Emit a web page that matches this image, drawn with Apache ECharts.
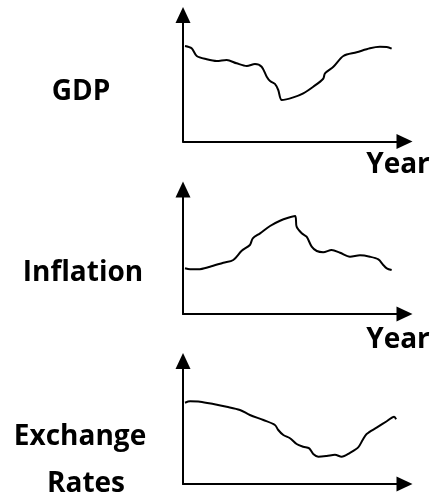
<!DOCTYPE html>
<html>
<head>
  <meta charset="utf-8">
  <title>GDP / Inflation / Exchange Rates</title>
  <style>
    html, body { margin: 0; padding: 0; background: #fff; }
    #main { width: 436px; height: 493px; }
  </style>
</head>
<body>
  <div id="main"></div>
  <script src="https://cdn.jsdelivr.net/npm/echarts@6/dist/echarts.min.js"></script>
  <script>
    // values (x = year index 0-100, y = level 0-100)
    var gdpX = [0.9, 3.9, 6.2, 10.7, 15.2, 19.7, 24.2, 28.8, 32.5, 35.5, 37.8, 39.3, 41.5, 43.0, 44.6, 49.8, 54.3, 58.8, 63.3, 64.1, 67.9, 72.4, 78.4, 84.4, 88.9, 92.0, 94.2];
    var gdpY = [75.5, 73.7, 67.6, 65.0, 63.6, 64.4, 61.8, 59.7, 61.3, 59.1, 51.2, 47.8, 45.5, 40.7, 32.8, 34.9, 38.1, 43.3, 49.6, 53.9, 59.1, 67.6, 70.5, 73.7, 74.9, 74.7, 73.4];

    var inflX = [0.9, 3.2, 6.9, 12.2, 18.2, 22.7, 26.5, 30.2, 31.5, 34.8, 39.3, 43.8, 47.5, 50.6, 51.3, 53.6, 55.8, 58.1, 60.4, 63.3, 67.1, 70.9, 75.4, 79.9, 84.4, 88.2, 90.4, 92.0, 94.2];
    var inflY = [36.7, 35.9, 35.9, 38.0, 41.2, 43.4, 50.8, 55.4, 60.8, 64.8, 70.7, 74.9, 77.3, 78.7, 70.1, 64.8, 62.1, 54.1, 50.6, 49.6, 51.4, 49.2, 46.0, 47.1, 46.0, 43.9, 39.4, 36.7, 35.3];

    var fxX = [0.9, 3.2, 7.7, 13.7, 19.7, 25.7, 30.2, 36.3, 41.5, 43.0, 45.3, 48.3, 51.3, 54.3, 57.0, 58.8, 61.1, 64.9, 68.6, 71.6, 75.4, 79.1, 81.1, 82.9, 87.4, 92.0, 95.3, 96.2];
    var fxY = [66.1, 67.2, 66.9, 65.0, 62.8, 60.2, 56.1, 52.0, 48.0, 43.9, 39.8, 37.2, 32.5, 30.3, 29.0, 24.4, 22.2, 22.8, 23.8, 22.2, 25.4, 29.8, 35.8, 40.7, 45.8, 51.0, 54.7, 52.6];

    var panelNames = ['GDP', 'Inflation', 'Exchange', 'Rates'];
    var xAxisName = 'Year';

    function pairs(xs, ys) {
      var out = [];
      for (var i = 0; i < xs.length; i++) out.push([xs[i], ys[i]]);
      return out;
    }

    var font = '"Open Sans", "DejaVu Sans", sans-serif';

    var grids = [
      { left: 183, right: 31.5, top: 15, bottom: 351.5 },
      { left: 183, right: 31.5, top: 189.5, bottom: 179 },
      { left: 183, right: 31.5, top: 361, bottom: 9 }
    ];

    var xAxes = [], yAxes = [];
    for (var i = 0; i < 3; i++) {
      var base = {
        gridIndex: i,
        type: 'value',
        min: 0,
        max: 100,
        axisLine: {
          show: true,
          symbol: ['none', 'triangle'],
          symbolSize: [15, 16],
          lineStyle: { color: '#000', width: 2 }
        },
        axisTick: { show: false },
        axisLabel: { show: false },
        splitLine: { show: false }
      };
      xAxes.push(Object.assign({}, base));
      yAxes.push(Object.assign({}, base));
    }

    function lineSeries(idx, data) {
      return {
        type: 'line',
        xAxisIndex: idx,
        yAxisIndex: idx,
        data: data,
        showSymbol: false,
        smooth: 0.3,
        lineStyle: { color: '#000', width: 2 },
        silent: true
      };
    }

    function label(text, x, y) {
      return {
        type: 'text',
        x: x,
        y: y,
        style: {
          text: text,
          font: 'bold 28px ' + font,
          fill: '#000',
          align: 'center',
          textAlign: 'center',
          verticalAlign: 'top',
          textVerticalAlign: 'top'
        }
      };
    }

    var chart = echarts.init(document.getElementById('main'));
    chart.setOption({
      animation: false,
      backgroundColor: '#fff',
      grid: grids,
      xAxis: xAxes,
      yAxis: yAxes,
      series: [
        lineSeries(0, pairs(gdpX, gdpY)),
        lineSeries(1, pairs(inflX, inflY)),
        lineSeries(2, pairs(fxX, fxY))
      ],
      graphic: [
        label(panelNames[0], 81, 78),
        label(panelNames[1], 83, 259),
        label(panelNames[2], 80, 423),
        label(panelNames[3], 86, 470),
        label(xAxisName, 398, 151),
        label(xAxisName, 398, 326)
      ]
    });
  </script>
</body>
</html>
